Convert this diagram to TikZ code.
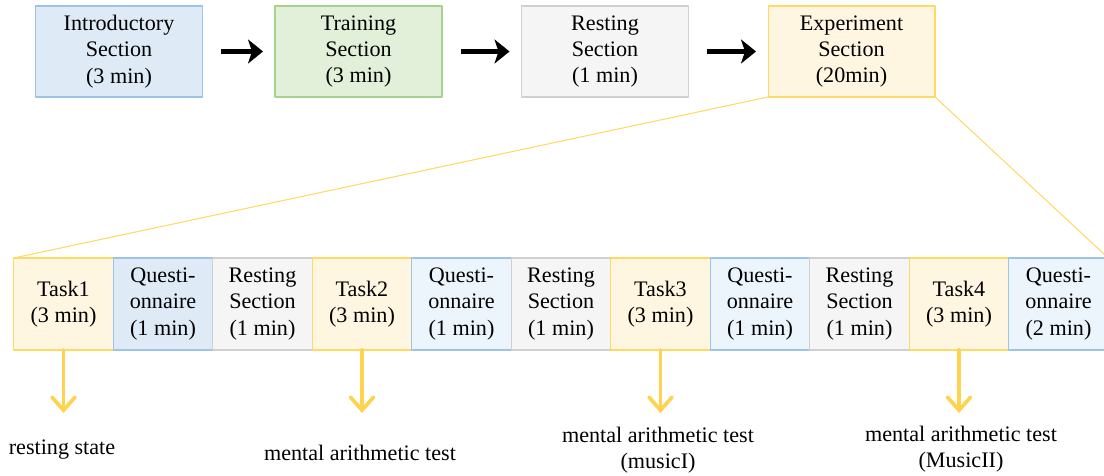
\documentclass[tikz,border=0pt]{standalone}
\usepackage{fontspec}
\setmainfont{Liberation Serif}
\usetikzlibrary{positioning,arrows.meta}
\definecolor{blueF}{HTML}{DEEBF7}
\definecolor{paleblueF}{HTML}{EDF5FC}
\definecolor{blueD}{HTML}{9DC3E6}
\definecolor{greenF}{HTML}{E2F0D9}
\definecolor{greenD}{HTML}{A9D18E}
\definecolor{grayF}{HTML}{F5F5F5}
\definecolor{grayD}{HTML}{D0D0D0}
\definecolor{yellowF}{HTML}{FFF6E1}
\definecolor{yellowD}{HTML}{FFD966}
\definecolor{arrowY}{HTML}{FFD24F}
\tikzset{
	box/.style={draw, line width=0.6pt, align=center, inner sep=0pt, outer sep=0pt, font=\fontsize{12.6}{15}\selectfont},
	secbox/.style={box, minimum width=3.34cm, minimum height=1.82cm},
	cellbox/.style={box, minimum width=1.99cm, minimum height=1.84cm},
	bluebox/.style={fill=blueF, draw=blueD},
	paleblue/.style={fill=paleblueF, draw=blueD},
	greenbox/.style={fill=greenF, draw=greenD},
	graybox/.style={fill=grayF, draw=grayD},
	yellowbox/.style={fill=yellowF, draw=yellowD},
	flow/.style={line width=2.6pt, -{Stealth[length=0.3cm,width=0.48cm,inset=0.08cm]}, shorten <=0.38cm, shorten >=0.24cm},
	down/.style={arrowY, line width=2.1pt, line cap=round, -{Straight Barb[length=0.26cm,width=0.46cm,line cap=round]}},
	note/.style={align=center, font=\fontsize{12.6}{15}\selectfont}
}
\begin{document}
\begin{tikzpicture}[x=0.02cm, y=-0.02cm, line join=round]
	\useasboundingbox (0,0) rectangle (1104,476);
	% top row
	\node[secbox,bluebox] (intro) at (119,51.5) {Introductory\\Section\\(3 min)};
	\node[secbox,greenbox] (train) at (358.5,51.5) {Training\\Section\\(3 min)};
	\node[secbox,graybox] (rest) at (605,51.5) {Resting\\Section\\(1 min)};
	\node[secbox,yellowbox] (exper) at (851.5,51.5) {Experiment\\Section\\(20min)};
	\draw[flow] (intro) -- (train);
	\draw[flow] (train) -- (rest);
	\draw[flow] (rest) -- (exper);
	% bottom row
	\foreach \txt/\sty [count=\i] in {{Task1\\(3 min)}/yellowbox, {Questi-\\onnaire\\(1 min)}/bluebox, {Resting\\Section\\(1 min)}/graybox,
		{Task2\\(3 min)}/yellowbox, {Questi-\\onnaire\\(1 min)}/paleblue, {Resting\\Section\\(1 min)}/graybox,
		{Task3\\(3 min)}/yellowbox, {Questi-\\onnaire\\(1 min)}/paleblue, {Resting\\Section\\(1 min)}/graybox,
		{Task4\\(3 min)}/yellowbox, {Questi-\\onnaire\\(2 min)}/paleblue}
		\node[cellbox,\sty] (c\i) at ({63.5+99.5*(\i-1)},304) {\txt};
	% zoom lines
	\draw[yellowD, line width=0.6pt] (exper.south west) -- (c1.north west);
	\draw[yellowD, line width=0.6pt] (exper.south east) -- (c11.north east);
	% outcomes
	\foreach \i/\j in {1/1,4/2,7/3,10/4} {
		\coordinate (e\j) at (c\i.south |- 0,413);
		\draw[down] (c\i.south) -- (e\j);
	}
	\node[note] (res) at (62,450) {resting state};
	\node[note] (m2) at (360,453) {mental arithmetic test};
	\node[note] (m3) at (658,450) {mental arithmetic test\\(musicI)};
	\node[note] (m4) at (961,449) {mental arithmetic test\\(MusicII)};
\end{tikzpicture}
\end{document}
